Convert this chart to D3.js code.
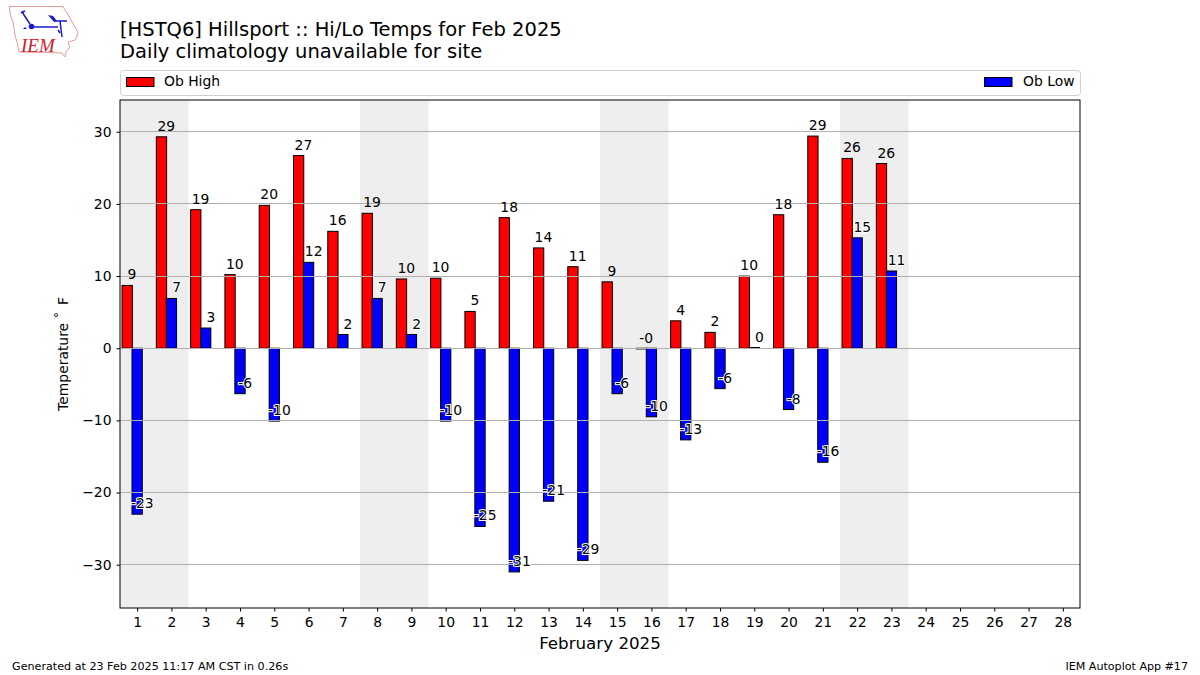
<!DOCTYPE html>
<html>
<head>
<meta charset="utf-8">
<script src="https://cdn.jsdelivr.net/npm/d3@7"></script>
<style>
  html, body { margin: 0; padding: 0; background: #fff; }
  text { font-family: "DejaVu Sans", sans-serif; fill: #000; }
</style>
</head>
<body>
<div class="chart"></div>
<script>
// Data
var days = d3.range(1, 29);
var highs = [8.7, 29.3, 19.2, 10.2, 19.8, 26.7, 16.2, 18.7, 9.6, 9.7, 5.1, 18.1, 13.9, 11.3, 9.2, -0.1, 3.8, 2.2, 10.0, 18.5, 29.4, 26.3, 25.6];
var lows = [-23.0, 6.9, 2.8, -6.3, -10.1, 11.9, 1.9, 6.9, 1.9, -10.1, -24.7, -31.0, -21.2, -29.4, -6.3, -9.5, -12.7, -5.6, 0.1, -8.5, -15.8, 15.3, 10.7];
var highLabels = ["9", "29", "19", "10", "20", "27", "16", "19", "10", "10", "5", "18", "14", "11", "9", "-0", "4", "2", "10", "18", "29", "26", "26"];
var lowLabels = ["-23", "7", "3", "-6", "-10", "12", "2", "7", "2", "-10", "-25", "-31", "-21", "-29", "-6", "-10", "-13", "-6", "0", "-8", "-16", "15", "11"];
var weekends = [[0.5, 2.5], [7.5, 9.5], [14.5, 16.5], [21.5, 23.5]];
var yTicks = [-30, -20, -10, 0, 10, 20, 30];

var svgWidth = 1200;
var svgHeight = 675;
var margin = { top: 100, right: 120, bottom: 67, left: 120 };
var width = svgWidth - margin.left - margin.right;
var height = svgHeight - margin.top - margin.bottom;

var svg = d3.select(".chart").append("svg")
  .attr("width", svgWidth)
  .attr("height", svgHeight)
  .style("display", "block");

var chart = svg.append("g")
  .attr("transform", "translate(" + margin.left + "," + margin.top + ")");

var x = d3.scaleLinear().domain([0.5, 28.5]).range([0, width]);
var y = d3.scaleLinear().domain([34.4, -36]).range([0, height]);

// weekend shading
chart.selectAll(".weekend").data(weekends).enter().append("rect")
  .attr("class", "weekend")
  .attr("x", function(d) { return x(d[0]); })
  .attr("width", function(d) { return x(d[1]) - x(d[0]); })
  .attr("y", 0)
  .attr("height", height)
  .attr("fill", "#eeeeee");

function drawBars(values, offset, color) {
  chart.selectAll(".bar-" + color).data(values).enter().append("rect")
    .attr("class", "bar-" + color)
    .attr("x", function(d, i) { return x(days[i] + offset); })
    .attr("width", x(1.3) - x(1))
    .attr("y", function(d) { return Math.min(y(d), y(0)); })
    .attr("height", function(d) { return Math.abs(y(d) - y(0)); })
    .attr("fill", color)
    .attr("stroke", "#000")
    .attr("stroke-width", 1);
}
drawBars(highs, -0.44, "red");
drawBars(lows, -0.15, "blue");

// grid sits on top of the bars
chart.selectAll(".grid").data(yTicks).enter().append("line")
  .attr("class", "grid")
  .attr("x1", 0)
  .attr("x2", width)
  .attr("y1", function(d) { return Math.floor(y(d)) + 0.5; })
  .attr("y2", function(d) { return Math.floor(y(d)) + 0.5; })
  .attr("stroke", "#b0b0b0")
  .attr("stroke-width", 1);

// value labels, centred on the right edge of each bar
function drawLabels(values, labels, offset, name, halo) {
  var t = chart.selectAll("." + name).data(values).enter().append("text")
    .attr("class", name)
    .attr("x", function(d, i) { return x(days[i] + offset); })
    .attr("y", function(d) { return y(d) - 6; })
    .attr("text-anchor", "middle")
    .attr("font-size", 13.9)
    .text(function(d, i) { return labels[i]; });
  if (halo) {
    t.style("paint-order", "stroke")
      .style("stroke", "#fff")
      .style("stroke-width", 2);
  }
}
drawLabels(highs, highLabels, -0.15, "high-label", false);
drawLabels(lows, lowLabels, 0.15, "low-label", true);

// axes
var bottomAxis = d3.axisBottom(x).tickValues(days).tickSize(3.5).tickPadding(5.5).tickFormat(d3.format("d"));
var leftAxis = d3.axisLeft(y).tickValues(yTicks).tickSize(3.5).tickPadding(5)
  .tickFormat(function(d) { return d < 0 ? "\u2212" + (-d) : d; });

var xAxis = chart.append("g").attr("transform", "translate(0," + height + ")").call(bottomAxis);
var yAxis = chart.append("g").call(leftAxis);
[xAxis, yAxis].forEach(function(a) {
  a.selectAll("text").attr("font-size", 13.9);
  a.select(".domain").remove();
});

chart.append("rect")
  .attr("width", width)
  .attr("height", height)
  .attr("fill", "none")
  .attr("stroke", "#000")
  .attr("stroke-width", 1);

// axis labels
var yLabel = chart.append("text")
  .attr("transform", "rotate(-90)")
  .attr("x", -height / 2 + 0)
  .attr("y", -52)
  .attr("text-anchor", "middle")
  .attr("font-size", 13.9);
yLabel.append("tspan").text("Temperature ");
yLabel.append("tspan").attr("dy", -1).text("\u02da");
yLabel.append("tspan").attr("dy", 1).attr("dx", 2).text(" F");

chart.append("text")
  .attr("x", width / 2)
  .attr("y", height + 41)
  .attr("text-anchor", "middle")
  .attr("font-size", 16.7)
  .text("February 2025");

// titles
svg.append("text").attr("x", 120).attr("y", 36).attr("font-size", 19.5)
  .text("[HSTQ6] Hillsport :: Hi/Lo Temps for Feb 2025");
svg.append("text").attr("x", 120).attr("y", 58).attr("font-size", 19.5)
  .text("Daily climatology unavailable for site");

// legend
svg.append("rect")
  .attr("x", 120.5).attr("y", 70.5).attr("width", 960).attr("height", 25).attr("rx", 3)
  .attr("fill", "#fff").attr("stroke", "#d0d0d0").attr("stroke-width", 1);

var legendNames = ["Ob High", "Ob Low"];
var legendColors = ["red", "blue"];
var legendX = [126.5, 984.5];
var legendTextX = [164, 1023];
legendNames.forEach(function(name, i) {
  svg.append("rect")
    .attr("x", legendX[i]).attr("y", 77.5).attr("width", 27.5).attr("height", 9)
    .attr("fill", legendColors[i]).attr("stroke", "#000").attr("stroke-width", 1);
  svg.append("text")
    .attr("x", legendTextX[i]).attr("y", 86).attr("font-size", 13.9)
    .text(name);
});

// footer
svg.append("text").attr("x", 12).attr("y", 670).attr("font-size", 11.15)
  .text("Generated at 23 Feb 2025 11:17 AM CST in 0.26s");
svg.append("text").attr("x", 1188).attr("y", 670).attr("text-anchor", "end").attr("font-size", 11.1)
  .text("IEM Autoplot App #17");

// IEM logo
var logo = svg.append("g");
logo.append("path")
  .attr("d", "M9.5 6.5 L63 6.5 L65 10 L67 13 L71 20 L75 27 L78 32 L77 36 L75 40 L68 42 L70 47 L66 52 L65 57 L62 53 L19 52 L17 42 L15 35 L13 22 L10 14 Z")
  .attr("fill", "none").attr("stroke", "#e49a9a").attr("stroke-width", 1);
logo.append("path")
  .attr("d", "M32 27 L58 27 M22 11 L24 15 L30 24 M21 13 L25 11 M55 21 L67 21 M60 21 L62 37 M58 30 L60 33")
  .attr("fill", "none").attr("stroke", "#1a1ad0").attr("stroke-width", 1.5);
logo.append("path")
  .attr("d", "M48 15 L53 16 L57 21 L54 22 Z")
  .attr("fill", "#1a1ad0");
logo.append("circle").attr("cx", 31.5).attr("cy", 26.5).attr("r", 2.8).attr("fill", "#1a1ad0");
logo.append("path")
  .attr("d", "M23 29 L25 27 L27 29 Z")
  .attr("fill", "#1a1ad0");
logo.append("text")
  .attr("x", 21).attr("y", 52)
  .style("font-family", "'Liberation Serif', serif")
  .style("font-style", "italic")
  .style("fill", "#d0202a")
  .attr("font-size", 19)
  .text("IEM");
</script>
</body>
</html>
